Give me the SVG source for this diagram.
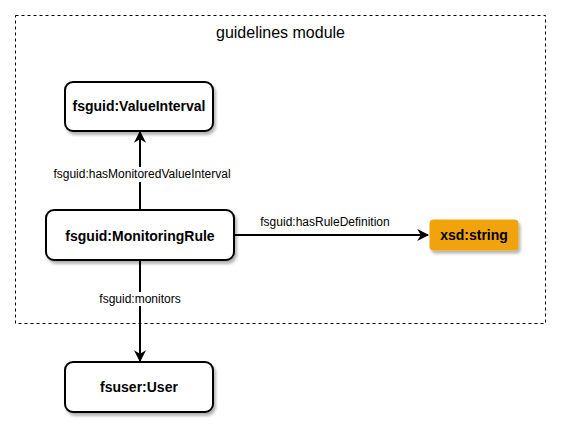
<svg xmlns="http://www.w3.org/2000/svg" width="561" height="437" viewBox="0 0 561 437">
<defs>
<filter id="sh" x="-10%" y="-10%" width="130%" height="140%">
<feGaussianBlur in="SourceAlpha" stdDeviation="1.5"/>
<feOffset dx="2" dy="3" result="b"/>
<feComponentTransfer><feFuncA type="linear" slope="0.3"/></feComponentTransfer>
<feMerge><feMergeNode/><feMergeNode in="SourceGraphic"/></feMerge>
</filter>
<marker id="arr" viewBox="0 0 10 10" refX="9" refY="5" markerWidth="6" markerHeight="6" orient="auto" markerUnits="strokeWidth">
<path d="M0,0 L10,5 L0,10 L3,5 Z" fill="#000"/>
</marker>
</defs>
<style>
.node{fill:#fff;stroke:#000;stroke-width:2;filter:url(#sh)}
.nt{font-family:"Liberation Sans",Arial,sans-serif;font-weight:bold;font-size:14px;text-anchor:middle;fill:#000}
.el{font-family:"Liberation Sans",Arial,sans-serif;font-size:12px;text-anchor:middle;fill:#000}
.edge{stroke:#000;stroke-width:2;fill:none;marker-end:url(#arr)}
</style>
<rect width="561" height="437" fill="#fff"/>
<g id="module">
<rect x="15.5" y="15.5" width="530" height="308" fill="none" stroke="#000" stroke-width="1" stroke-dasharray="3,3"/>
<text x="280.5" y="38" font-family="Liberation Sans,Arial,sans-serif" font-size="16px" text-anchor="middle" fill="#000">guidelines module</text>
</g>
<g id="connectors">
<line class="edge" x1="140" y1="209" x2="140" y2="132"/>
<rect x="50" y="167" width="184" height="15" fill="#fff"/>
<text class="el" x="142" y="178">fsguid:hasMonitoredValueInterval</text>
<line class="edge" x1="234" y1="235" x2="428" y2="235"/>
<text class="el" x="325" y="226">fsguid:hasRuleDefinition</text>
<line class="edge" x1="140" y1="260" x2="140" y2="361"/>
<rect x="94" y="292" width="94" height="14" fill="#fff"/>
<text class="el" x="140" y="303">fsguid:monitors</text>
</g>
<g id="valueInterval">
<rect class="node" x="65" y="82" width="148" height="49" rx="8"/>
<text class="nt" x="139" y="111">fsguid:ValueInterval</text>
</g>
<g id="monitoringRule">
<rect class="node" x="46" y="210" width="188" height="50" rx="8"/>
<text class="nt" x="140" y="240.5" font-size="15px">fsguid:MonitoringRule</text>
</g>
<g id="xsdString">
<rect x="430" y="220" width="88" height="30" rx="3" fill="#f0a30a" stroke="#f0a30a" stroke-width="1" filter="url(#sh)"/>
<text class="nt" x="474" y="240">xsd:string</text>
</g>
<g id="user">
<rect class="node" x="65" y="362" width="148" height="50" rx="8"/>
<text class="nt" x="139" y="392">fsuser:User</text>
</g>
</svg>
